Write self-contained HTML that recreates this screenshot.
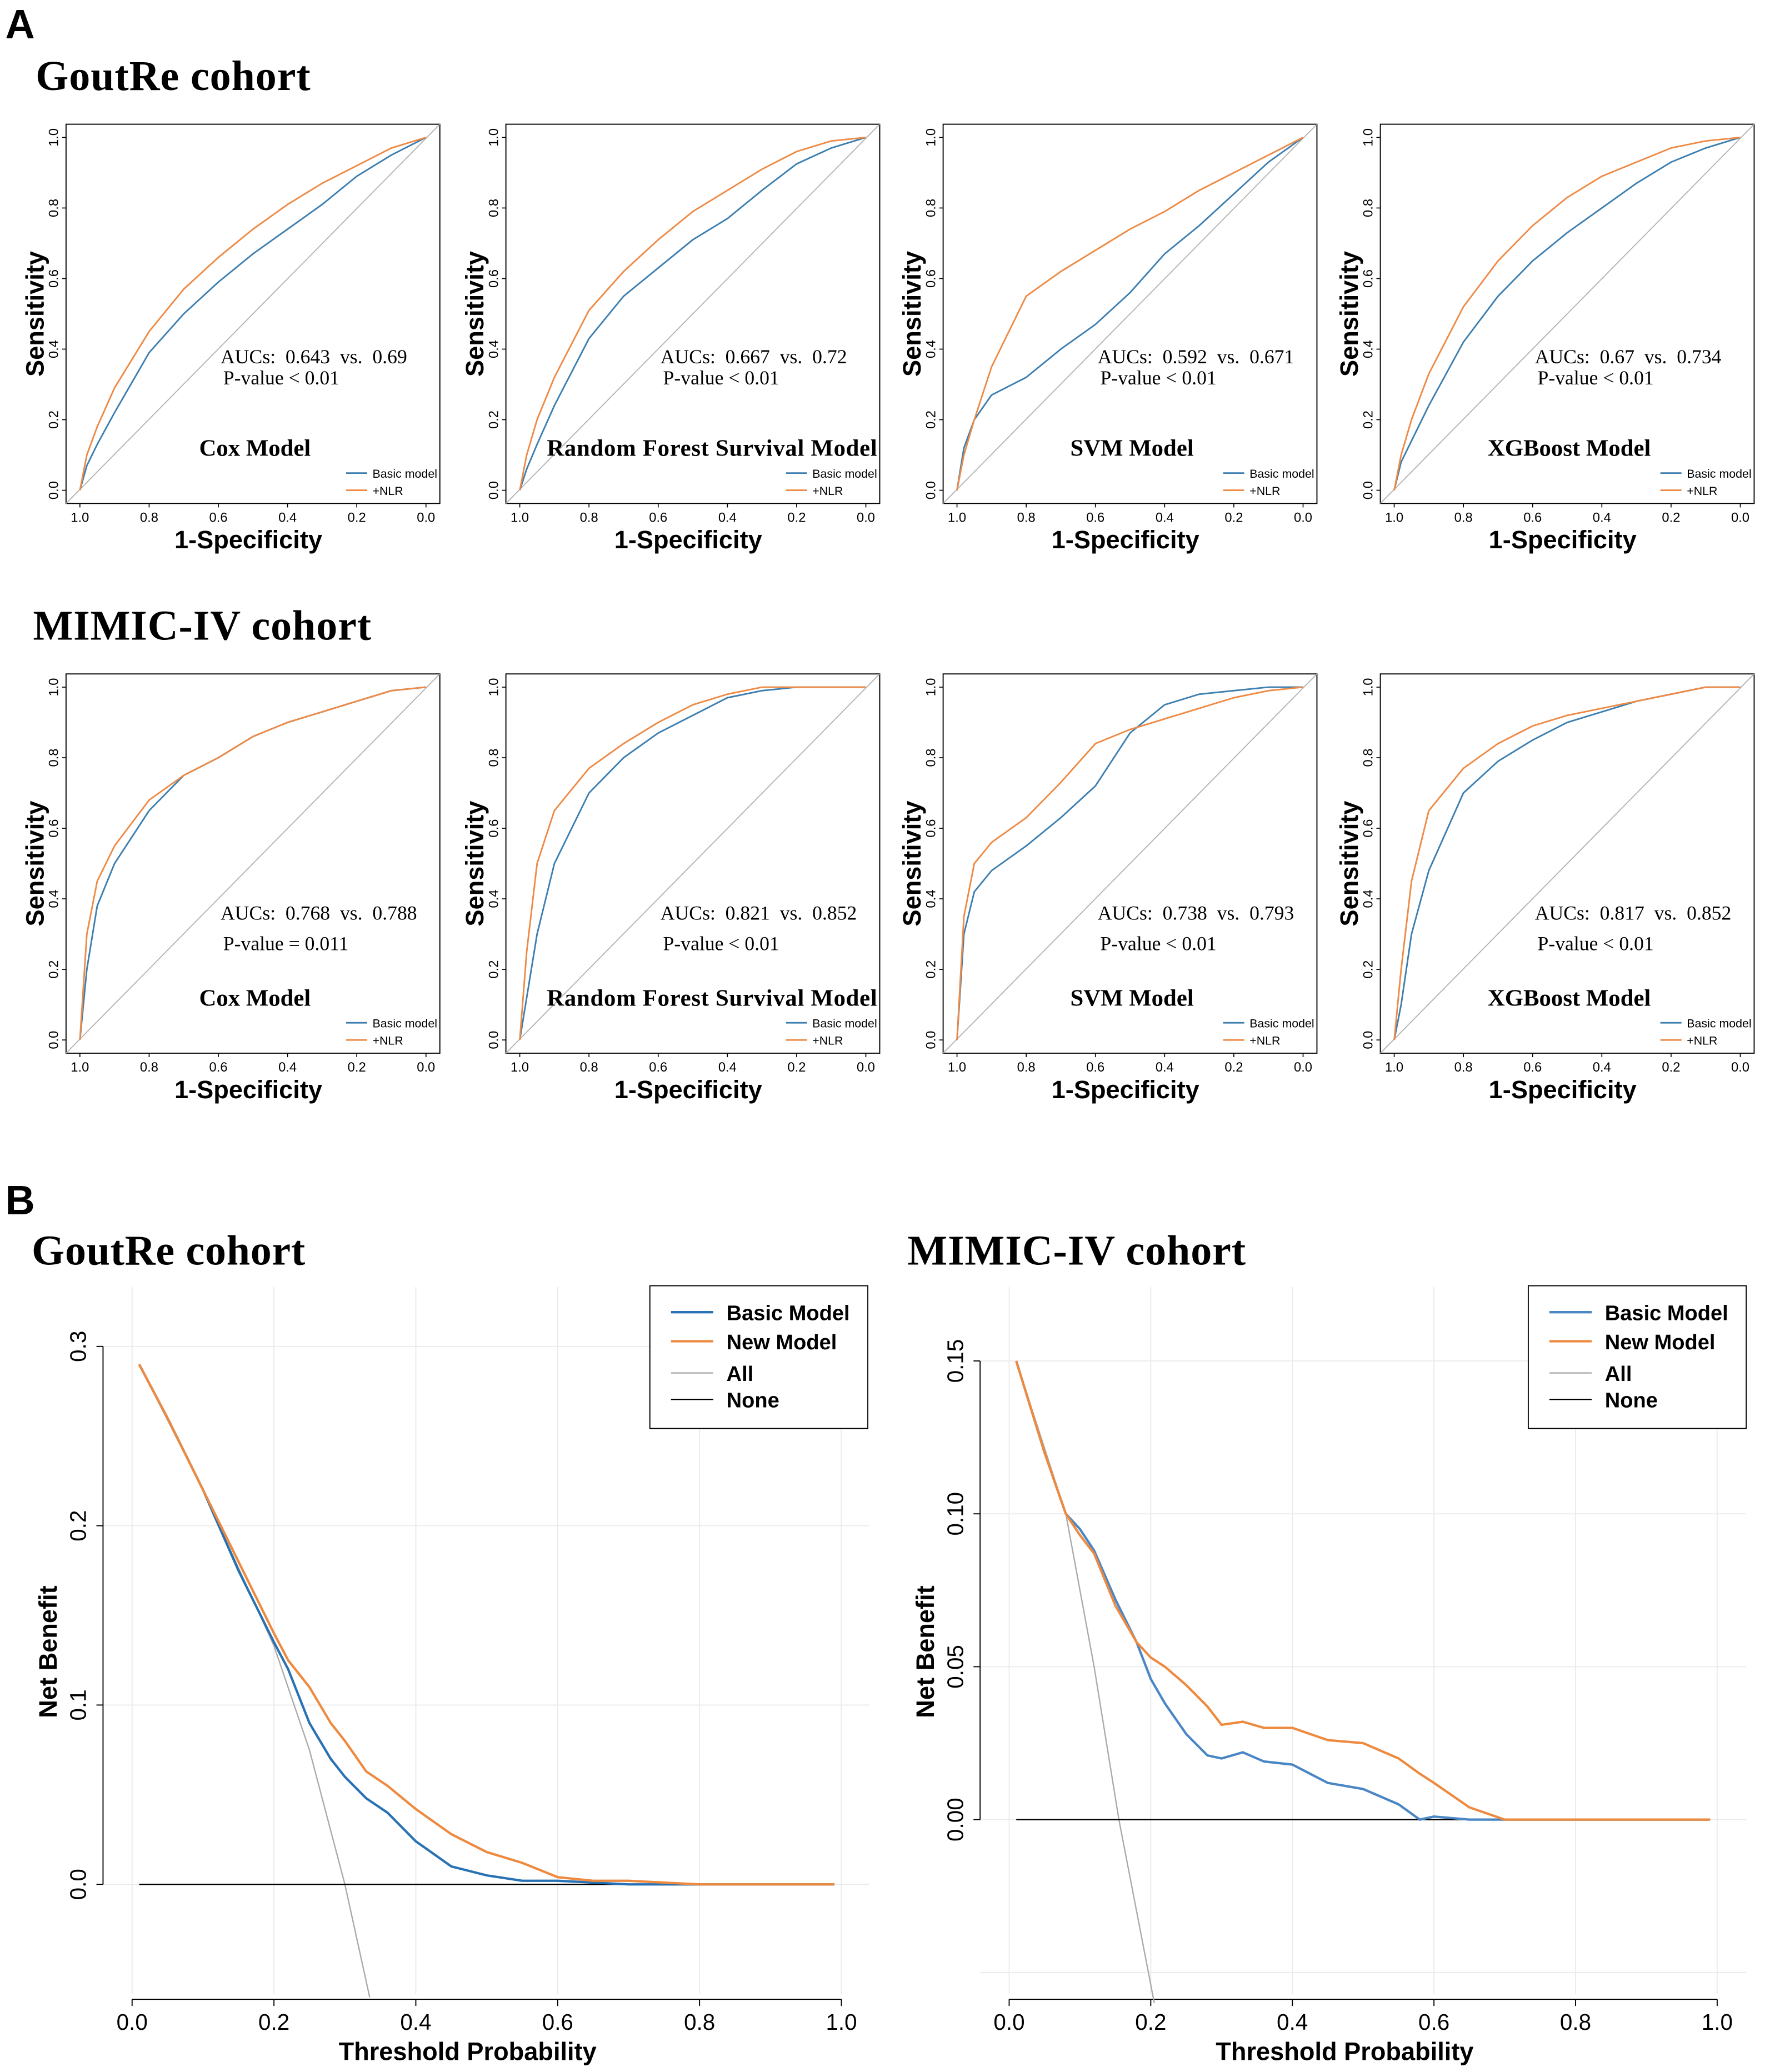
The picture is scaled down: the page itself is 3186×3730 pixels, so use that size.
<!DOCTYPE html>
<html><head><meta charset="utf-8"><style>
html,body{margin:0;padding:0;background:#fff}
svg{display:block}
.ser{font-family:"Liberation Serif",serif}
.san{font-family:"Liberation Sans",sans-serif}
</style></head><body>
<svg id="fig" xmlns="http://www.w3.org/2000/svg" width="3186" height="3730" viewBox="0 0 1340 1568" preserveAspectRatio="none">
<rect x="0" y="0" width="1340" height="1568" fill="#fff"/>
<text x="4" y="29" class="san" font-size="31" font-weight="bold">A</text>
<text x="27" y="68" class="ser" font-size="32" font-weight="bold" textLength="208">GoutRe cohort</text>
<text x="25" y="484" class="ser" font-size="32" font-weight="bold" textLength="256">MIMIC-IV cohort</text>
<text x="4" y="919" class="san" font-size="31" font-weight="bold">B</text>
<text x="24" y="957" class="ser" font-size="32" font-weight="bold" textLength="207">GoutRe cohort</text>
<text x="687" y="957" class="ser" font-size="32" font-weight="bold" textLength="256">MIMIC-IV cohort</text>
</svg>
<script>
// ROC data: x = 1-specificity grid, y = sensitivity
const fprGrid = [0, .02, .05, .1, .2, .3, .4, .5, .6, .7, .8, .9, 1];
const coxGoutBasic = [0, .07, .13, .22, .39, .5, .59, .67, .74, .81, .89, .95, 1];
const coxGoutNlr   = [0, .1, .18, .29, .45, .57, .66, .74, .81, .87, .92, .97, 1];
const rfGoutBasic  = [0, .06, .13, .24, .43, .55, .63, .71, .77, .85, .925, .97, 1];
const rfGoutNlr    = [0, .1, .2, .32, .51, .62, .71, .79, .85, .91, .96, .99, 1];
const svmGoutBasic = [0, .12, .2, .27, .32, .4, .47, .56, .67, .75, .84, .93, 1];
const svmGoutNlr   = [0, .1, .2, .35, .55, .62, .68, .74, .79, .85, .9, .95, 1];
const xgbGoutBasic = [0, .08, .14, .24, .42, .55, .65, .73, .8, .87, .93, .97, 1];
const xgbGoutNlr   = [0, .1, .2, .33, .52, .65, .75, .83, .89, .93, .97, .99, 1];
const coxMimBasic  = [0, .2, .38, .5, .65, .75, .8, .86, .9, .93, .96, .99, 1];
const coxMimNlr    = [0, .3, .45, .55, .68, .75, .8, .86, .9, .93, .96, .99, 1];
const rfMimBasic   = [0, .12, .3, .5, .7, .8, .87, .92, .97, .99, 1, 1, 1];
const rfMimNlr     = [0, .25, .5, .65, .77, .84, .9, .95, .98, 1, 1, 1, 1];
const svmMimBasic  = [0, .3, .42, .48, .55, .63, .72, .87, .95, .98, .99, 1, 1];
const svmMimNlr    = [0, .35, .5, .56, .63, .73, .84, .88, .91, .94, .97, .99, 1];
const xgbMimBasic  = [0, .1, .3, .48, .7, .79, .85, .9, .93, .96, .98, 1, 1];
const xgbMimNlr    = [0, .2, .45, .65, .77, .84, .89, .92, .94, .96, .98, 1, 1];
const rocTicks = [1.0, 0.8, 0.6, 0.4, 0.2, 0.0];
const rocTickLabels = ["1.0", "0.8", "0.6", "0.4", "0.2", "0.0"];

// DCA data
const dcaGoutT     = [.01, .05, .1, .15, .2, .22, .25, .28, .3, .33, .36, .4, .45, .5, .55, .6, .65, .7, .8, .9, .99];
const dcaGoutBasic = [.29, .26, .22, .175, .135, .12, .09, .07, .06, .048, .04, .024, .01, .005, .002, .002, .001, 0, 0, 0, 0];
const dcaGoutNew   = [.29, .26, .22, .18, .14, .125, .11, .09, .08, .063, .055, .042, .028, .018, .012, .004, .002, .002, 0, 0, 0];
const dcaGoutAllT  = [.01, .1, .2, .25, .3, .335];
const dcaGoutAll   = [.29, .22, .133, .075, 0, -.063];
const dcaMimT      = [.01, .05, .08, .1, .12, .15, .18, .2, .22, .25, .28, .3, .33, .36, .4, .45, .5, .55, .58, .6, .65, .7, .8, .99];
const dcaMimBasic  = [.15, .12, .1, .095, .088, .072, .058, .046, .038, .028, .021, .02, .022, .019, .018, .012, .01, .005, 0, .001, 0, 0, 0, 0];
const dcaMimNew    = [.15, .12, .1, .093, .087, .07, .058, .053, .05, .044, .037, .031, .032, .03, .03, .026, .025, .02, .015, .012, .004, 0, 0, 0];
const dcaMimAllT   = [.01, .08, .12, .155, .205];
const dcaMimAll    = [.15, .1, .05, 0, -.06];
const dcaXTicks = [0, .2, .4, .6, .8, 1];
const dcaXLabels = ["0.0", "0.2", "0.4", "0.6", "0.8", "1.0"];
const dcaGoutYTicks = [0, .1, .2, .3];
const dcaGoutYLabels = ["0.0", "0.1", "0.2", "0.3"];
const dcaMimYTicks = [0, .05, .1, .15];
const dcaMimYLabels = ["0.00", "0.05", "0.10", "0.15"];
const dcaMimGridExtra = [-.05];

const NS = "http://www.w3.org/2000/svg";
const svg = document.getElementById("fig");
function mk(parent, tag, attrs, name, inter) {
  const el = document.createElementNS(NS, tag);
  for (const k in attrs) el.setAttribute(k, attrs[k]);
  
  
  parent.appendChild(el);
  return el;
}
function txt(parent, s, attrs, name) {
  const t = mk(parent, "text", attrs, name, false);
  t.textContent = s;
  return t;
}
const BLUE_R = "#3d7fb0", ORANGE_R = "#ee8a45";

function roc(bx, by, name, basic, nlr, auc1, auc2, pval, row, slug) {
  const W = 283, H = 287, ix = 10.5, iy = 10;
  const g = mk(svg, "g", {}, slug + "-roc-panel", false);
  const sx = f => bx + ix + f * (W - 2 * ix);
  const sy = s => by + H - iy - s * (H - 2 * iy);
  mk(g, "rect", {x: bx, y: by, width: W, height: H, fill: "none", stroke: "#000", "stroke-width": 0.8}, slug + "-plot-box", false);
  mk(g, "line", {x1: bx, y1: by + H, x2: bx + W, y2: by, stroke: "#b5b5b5", "stroke-width": 0.8}, slug + "-diagonal", false);
  rocTicks.forEach((v, i) => {
    const x = sx(1 - v);
    mk(g, "line", {x1: x, y1: by + H, x2: x, y2: by + H + 3, stroke: "#000", "stroke-width": 0.7}, slug + "-x-tick", false);
    txt(g, rocTickLabels[i], {x: x, y: by + H + 14, "font-size": 10, "text-anchor": "middle", class: "san"}, slug + "-x-tick-label");
    const y = sy(1 - v);
    mk(g, "line", {x1: bx, y1: y, x2: bx - 3, y2: y, stroke: "#000", "stroke-width": 0.7}, slug + "-y-tick", false);
    txt(g, rocTickLabels[5 - i], {x: bx - 6, y: y, "font-size": 10, "text-anchor": "middle", class: "san", transform: `rotate(-90 ${bx - 6} ${y})`}, slug + "-y-tick-label");
  });
  const mkPath = arr => fprGrid.map((f, i) => (i ? "L" : "M") + sx(f).toFixed(2) + " " + sy(arr[i]).toFixed(2)).join(" ");
  mk(g, "path", {d: mkPath(basic), fill: "none", stroke: BLUE_R, "stroke-width": 1.2}, slug + "-basic-curve", false);
  mk(g, "path", {d: mkPath(nlr), fill: "none", stroke: ORANGE_R, "stroke-width": 1.2}, slug + "-nlr-curve", false);
  txt(g, "1-Specificity", {x: bx + 138, y: by + H + 34, "font-size": 19, "font-weight": "bold", "text-anchor": "middle", class: "san"}, slug + "-x-axis-title");
  const yx = bx - 17, yy = by + H / 2;
  txt(g, "Sensitivity", {x: yx, y: yy, "font-size": 19, "font-weight": "bold", "text-anchor": "middle", class: "san", transform: `rotate(-90 ${yx} ${yy})`}, slug + "-y-axis-title");
  const ay = row === 1 ? 181 : 186, py = row === 1 ? 197 : 209;
  const a = txt(g, `AUCs:  ${auc1}  vs.  ${auc2}`, {x: bx + 117, y: by + ay, "font-size": 15, class: "ser"}, slug + "-auc-text");
  a.setAttribute("xml:space", "preserve"); a.style.whiteSpace = "pre";
  txt(g, pval, {x: bx + 119, y: by + py, "font-size": 15, class: "ser"}, slug + "-pvalue-text");
  const t = txt(g, name, {x: bx + (name.length > 20 ? 156 : 143), y: by + 251, "font-size": 18, "font-weight": "bold", "text-anchor": "middle", class: "ser"}, slug + "-model-name");
  if (name.length > 20) t.setAttribute("textLength", 250);
  mk(g, "line", {x1: bx + 212, y1: by + 264, x2: bx + 228, y2: by + 264, stroke: BLUE_R, "stroke-width": 1.2}, slug + "-legend-basic-line", false);
  txt(g, "Basic model", {x: bx + 232, y: by + 267.5, "font-size": 9, class: "san"}, slug + "-legend-basic");
  mk(g, "line", {x1: bx + 212, y1: by + 277, x2: bx + 228, y2: by + 277, stroke: ORANGE_R, "stroke-width": 1.2}, slug + "-legend-nlr-line", false);
  txt(g, "+NLR", {x: bx + 232, y: by + 280.5, "font-size": 9, class: "san"}, slug + "-legend-nlr");
}
const cols = [50, 383, 714, 1045];
roc(cols[0], 94, "Cox Model", coxGoutBasic, coxGoutNlr, "0.643", "0.69", "P-value < 0.01", 1, "goutre-cox");
roc(cols[1], 94, "Random Forest Survival Model", rfGoutBasic, rfGoutNlr, "0.667", "0.72", "P-value < 0.01", 1, "goutre-rf");
roc(cols[2], 94, "SVM Model", svmGoutBasic, svmGoutNlr, "0.592", "0.671", "P-value < 0.01", 1, "goutre-svm");
roc(cols[3], 94, "XGBoost Model", xgbGoutBasic, xgbGoutNlr, "0.67", "0.734", "P-value < 0.01", 1, "goutre-xgb");
roc(cols[0], 510, "Cox Model", coxMimBasic, coxMimNlr, "0.768", "0.788", "P-value = 0.011", 2, "mimic-cox");
roc(cols[1], 510, "Random Forest Survival Model", rfMimBasic, rfMimNlr, "0.821", "0.852", "P-value < 0.01", 2, "mimic-rf");
roc(cols[2], 510, "SVM Model", svmMimBasic, svmMimNlr, "0.738", "0.793", "P-value < 0.01", 2, "mimic-svm");
roc(cols[3], 510, "XGBoost Model", xgbMimBasic, xgbMimNlr, "0.817", "0.852", "P-value < 0.01", 2, "mimic-xgb");

function dca(o) {
  const g = mk(svg, "g", {}, o.slug + "-dca-panel", false);
  const sx = t => o.x0 + t * (o.x1 - o.x0);
  const sy = v => o.y0 - v * o.k;
  const top = 974, bottom = 1513;
  dcaXTicks.forEach(t => mk(g, "line", {x1: sx(t), y1: top, x2: sx(t), y2: bottom - 4, stroke: "#ebebeb", "stroke-width": 0.8}, o.slug + "-v-grid", false));
  o.yt.concat(o.extra).forEach(v => mk(g, "line", {x1: o.ax, y1: sy(v), x2: o.right, y2: sy(v), stroke: "#ebebeb", "stroke-width": 0.8}, o.slug + "-h-grid", false));
  mk(g, "line", {x1: sx(0), y1: bottom, x2: sx(1), y2: bottom, stroke: "#000", "stroke-width": 0.8}, o.slug + "-x-axis", false);
  dcaXTicks.forEach((t, i) => {
    mk(g, "line", {x1: sx(t), y1: bottom, x2: sx(t), y2: bottom + 5, stroke: "#000", "stroke-width": 0.8}, o.slug + "-x-tick", false);
    txt(g, dcaXLabels[i], {x: sx(t), y: bottom + 23, "font-size": 17, "text-anchor": "middle", class: "san"}, o.slug + "-x-tick-label");
  });
  mk(g, "line", {x1: o.ax, y1: sy(o.yt[0]), x2: o.ax, y2: sy(o.yt[o.yt.length - 1]), stroke: "#000", "stroke-width": 0.8}, o.slug + "-y-axis", false);
  o.yt.forEach((v, i) => {
    mk(g, "line", {x1: o.ax, y1: sy(v), x2: o.ax - 5, y2: sy(v), stroke: "#000", "stroke-width": 0.8}, o.slug + "-y-tick", false);
    const lx = o.ax - 13;
    txt(g, o.yl[i], {x: lx, y: sy(v), "font-size": 17, "text-anchor": "middle", class: "san", transform: `rotate(-90 ${lx} ${sy(v)})`}, o.slug + "-y-tick-label");
  });
  const line = (ts, vs) => ts.map((t, i) => (i ? "L" : "M") + sx(t).toFixed(2) + " " + sy(vs[i]).toFixed(2)).join(" ");
  mk(g, "path", {d: line(o.allT, o.all), fill: "none", stroke: "#aaa", "stroke-width": 1}, o.slug + "-all-line", false);
  mk(g, "line", {x1: sx(.01), y1: sy(0), x2: sx(.99), y2: sy(0), stroke: "#000", "stroke-width": 1}, o.slug + "-none-line", false);
  mk(g, "path", {d: line(o.t, o.basic), fill: "none", stroke: o.blue, "stroke-width": 1.8}, o.slug + "-basic-line", false);
  mk(g, "path", {d: line(o.t, o.nw), fill: "none", stroke: "#ee8a40", "stroke-width": 1.8}, o.slug + "-new-line", false);
  txt(g, "Threshold Probability", {x: o.xtc, y: bottom + 46, "font-size": 19, "font-weight": "bold", "text-anchor": "middle", class: "san"}, o.slug + "-x-axis-title");
  const tx = o.ax - 35, ty = 1250;
  txt(g, "Net Benefit", {x: tx, y: ty, "font-size": 19, "font-weight": "bold", "text-anchor": "middle", class: "san", transform: `rotate(-90 ${tx} ${ty})`}, o.slug + "-y-axis-title");
  const lg = mk(g, "g", {}, o.slug + "-legend", false);
  mk(lg, "rect", {x: o.lx, y: 973, width: 165, height: 108, fill: "#fff", stroke: "#000", "stroke-width": 0.8}, o.slug + "-legend-box", false);
  const ent = [["Basic Model", o.blue, 1.8, 994], ["New Model", "#ee8a40", 1.8, 1016], ["All", "#aaa", 1, 1040], ["None", "#000", 1, 1060]];
  ent.forEach(e => {
    mk(lg, "line", {x1: o.lx + 16, y1: e[3] - 1, x2: o.lx + 48, y2: e[3] - 1, stroke: e[1], "stroke-width": e[2]}, o.slug + "-legend-line", false);
    txt(lg, e[0], {x: o.lx + 58, y: e[3] + 5, "font-size": 16, "font-weight": "bold", class: "san"}, o.slug + "-legend-entry");
  });
}
dca({slug: "goutre", x0: 100, x1: 637, y0: 1426, k: 1357, ax: 78, right: 658, yt: dcaGoutYTicks, yl: dcaGoutYLabels, extra: [],
  t: dcaGoutT, basic: dcaGoutBasic, nw: dcaGoutNew, allT: dcaGoutAllT, all: dcaGoutAll, blue: "#2871b3", lx: 492, xtc: 354});
dca({slug: "mimic", x0: 764, x1: 1300, y0: 1377, k: 2314, ax: 742, right: 1322, yt: dcaMimYTicks, yl: dcaMimYLabels, extra: dcaMimGridExtra,
  t: dcaMimT, basic: dcaMimBasic, nw: dcaMimNew, allT: dcaMimAllT, all: dcaMimAll, blue: "#4a86c5", lx: 1157, xtc: 1018});
</script>
</body></html>
